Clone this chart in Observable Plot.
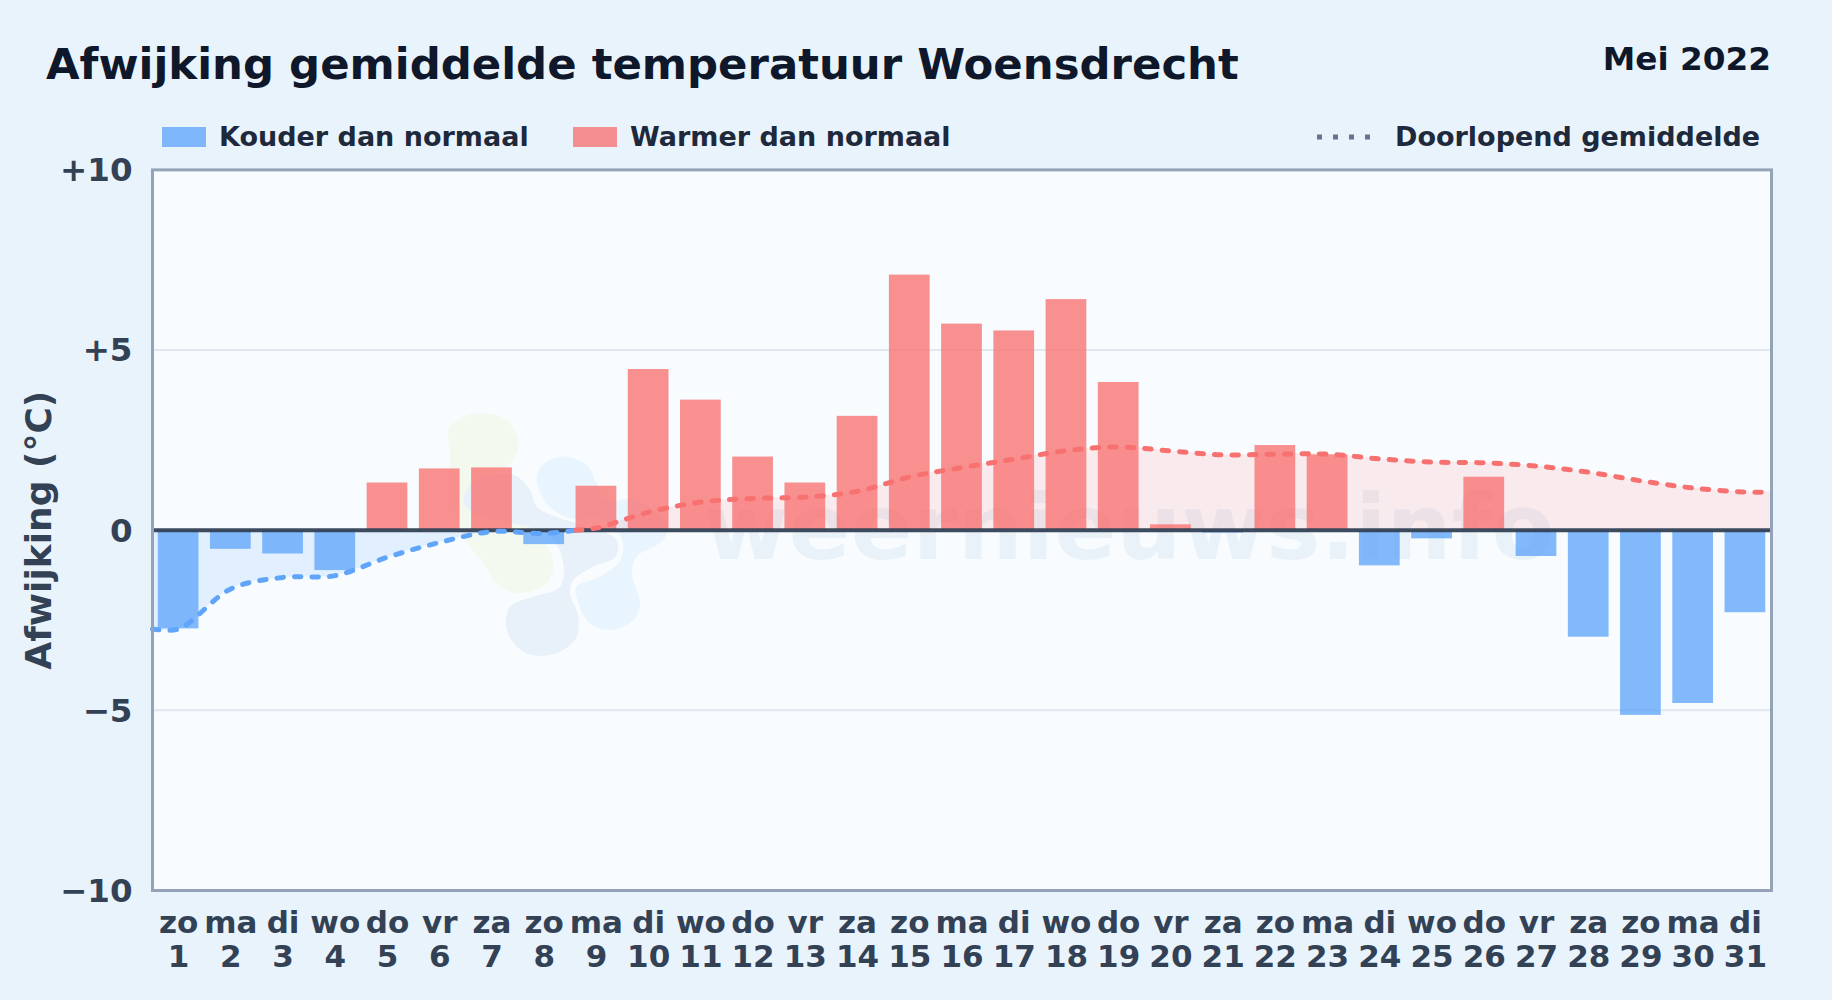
<!DOCTYPE html>
<html><head><meta charset="utf-8">
<script src="https://cdn.jsdelivr.net/npm/d3@7"></script>
<script src="https://cdn.jsdelivr.net/npm/@observablehq/plot@0.6"></script>
<style>
html,body{margin:0;padding:0;background:#e9f3fc;font-family:"DejaVu Sans",sans-serif;font-weight:bold}
#wrap{position:relative;width:1832px;height:1000px;overflow:hidden;background:#e9f3fc}
#head{position:relative;height:154px}
#head div,#head span{position:absolute;white-space:nowrap}
#title{left:46px;top:37.5px;font-size:43.4px;line-height:52px;color:#0f172a}
#date{right:61px;top:40px;font-size:32.7px;line-height:38px;color:#0f172a}
.lt{font-size:27px;line-height:30px;color:#1e293b;top:122px}
.sw{width:44px;height:20px;top:127px}
#chart svg{display:block}
</style></head><body>
<div id="wrap">
<div id="head">
<div id="title">Afwijking gemiddelde temperatuur Woensdrecht</div>
<div id="date">Mei 2022</div>
<div class="sw" style="left:162px;background:#60a5fa;opacity:.78"></div>
<div class="lt" style="left:219px">Kouder dan normaal</div>
<div class="sw" style="left:573px;background:#f87171;opacity:.78"></div>
<div class="lt" style="left:630px">Warmer dan normaal</div>
<svg style="position:absolute;left:1315px;top:127px" width="64" height="20"><line x1="2" x2="62" y1="10" y2="10" stroke="#64748b" stroke-width="5" stroke-dasharray="5 11"/></svg>
<div class="lt" style="left:1395px">Doorlopend gemiddelde</div>
</div>
<div id="chart"></div>
</div>
<script>
const dagen = d3.range(1, 32);
const weekdagen = ["zo","ma","di","wo","do","vr","za","zo","ma","di","wo","do","vr","za","zo","ma","di","wo","do","vr","za","zo","ma","di","wo","do","vr","za","zo","ma","di"];
const afwijking = [-2.74,-0.53,-0.66,-1.12,1.31,1.70,1.73,-0.40,1.22,4.46,3.61,2.03,1.31,3.16,7.08,5.72,5.53,6.40,4.10,0.15,-0.08,2.35,2.09,-0.99,-0.24,1.47,-0.73,-2.97,-5.14,-4.81,-2.29];
const gemiddelde = [-2.74,-1.63,-1.31,-1.26,-0.75,-0.34,-0.04,-0.09,0.06,0.50,0.78,0.88,0.92,1.08,1.48,1.74,1.97,2.21,2.31,2.20,2.09,2.11,2.11,1.98,1.89,1.87,1.78,1.61,1.37,1.17,1.06];
const yTicks = [-10,-5,0,5,10];
const yTickLabels = ["−10","−5","0","+5","+10"];
const gridLines = [-5,5];
const kruising = 8.6;

const bars = dagen.map((d,i)=>({d, w:weekdagen[i], v:afwijking[i]}));
const lijn = [{d:0.5,v:gemiddelde[0]}, ...dagen.map((d,i)=>({d,v:gemiddelde[i]})), {d:31.5,v:gemiddelde[30]}];
const koud = [...lijn.filter(p=>p.d<kruising), {d:kruising,v:0}];
const warm = [{d:kruising,v:0}, ...lijn.filter(p=>p.d>kruising)];
const halfBar = 0.39;
const curve = "catmull-rom";
const lineStyle = {x:"d", y:"v", curve, strokeWidth:5, strokeDasharray:"6.5 11", strokeLinecap:"round"};

// decorative watermark logo (background shapes, not data)
const logoGroen = [[85,120],[130,80],[190,70],[260,90],[295,150],[280,210],[240,250],[300,350],[340,415],[400,510],[380,580],[290,610],[230,580],[190,520],[130,440],[90,300],[90,180]];
const logoDonker = [[130,330],[170,270],[280,255],[330,300],[350,350],[420,385],[470,400],[590,450],[585,500],[520,530],[460,570],[450,610],[475,680],[465,750],[390,795],[310,785],[260,720],[270,650],[340,620],[420,590],[430,520],[400,450],[340,415],[250,395],[160,370]];
const logoLicht = [[350,260],[380,215],[440,200],[500,225],[530,280],[560,330],[640,330],[740,400],[730,450],[650,500],[635,550],[660,640],[640,690],[570,720],[510,700],[475,640],[470,590],[530,565],[595,520],[610,470],[590,420],[540,385],[450,385],[380,340]];
const logo = (index, scales, values, dim) => {
  const g = d3.create("svg:g");
  const blob = (fill, pts) => g.append("path")
    .attr("d", d3.line().curve(d3.curveCatmullRomClosed)(pts.map(p=>[p[0]/3+420-152+dim.marginLeft, p[1]/3+390-169.4+dim.marginTop])))
    .attr("fill",fill);
  blob("#f3f9ef",logoGroen);
  blob("#e8f4fe",logoLicht);
  blob("#e8f0f9",logoDonker);
  return g.node();
};

const chart = Plot.plot({
  width:1832, height:846,
  marginLeft:152, marginRight:61, marginTop:15.4, marginBottom:110,
  style:{background:"transparent", fontFamily:"DejaVu Sans", fontWeight:"bold", overflow:"visible"},
  x:{domain:[0.5,31.5]},
  y:{domain:[-10,10]},
  marks:[
    Plot.frame({fill:"#f8fcff", stroke:"none"}),
    logo,
    Plot.text(["weernieuws.info"],{x:19.2,y:0,fontSize:91.5,fontWeight:"bold",fill:"#3b6ea6",fillOpacity:0.07}),
    Plot.ruleY(gridLines,{stroke:"#e2e8f0",strokeWidth:2}),
    Plot.areaY(koud,{x:"d",y1:0,y2:"v",curve,fill:"#60a5fa",fillOpacity:0.15}),
    Plot.areaY(warm,{x:"d",y1:0,y2:"v",curve,fill:"#f87171",fillOpacity:0.13}),
    Plot.rect(bars.filter(b=>b.v<0),{x1:b=>b.d-halfBar,x2:b=>b.d+halfBar,y1:0,y2:"v",fill:"#60a5fa",fillOpacity:0.78}),
    Plot.rect(bars.filter(b=>b.v>=0),{x1:b=>b.d-halfBar,x2:b=>b.d+halfBar,y1:0,y2:"v",fill:"#f87171",fillOpacity:0.78}),
    Plot.ruleY([0],{stroke:"#334155",strokeWidth:4,strokeOpacity:0.95}),
    Plot.line(koud,{...lineStyle,stroke:"#60a5fa"}),
    Plot.line(warm,{...lineStyle,stroke:"#f87171"}),
    Plot.frame({stroke:"#94a3b8",strokeWidth:3}),
    Plot.axisY({ticks:yTicks,tickFormat:d=>yTickLabels[yTicks.indexOf(d)],tickSize:0,tickPadding:20,fontSize:32.5,fill:"#334155",label:null,dy:1}),
    Plot.axisX({ticks:dagen,tickFormat:d=>weekdagen[d-1]+"\n"+d,tickSize:0,tickPadding:17.5,fontSize:31,fill:"#334155",lineHeight:1.12,label:null}),
    Plot.text(["Afwijking (°C)"],{frameAnchor:"left",textAnchor:"middle",rotate:-90,dx:-113,fontSize:36,fill:"#334155"})
  ]
});
document.getElementById("chart").appendChild(chart);
</script>
</body></html>
